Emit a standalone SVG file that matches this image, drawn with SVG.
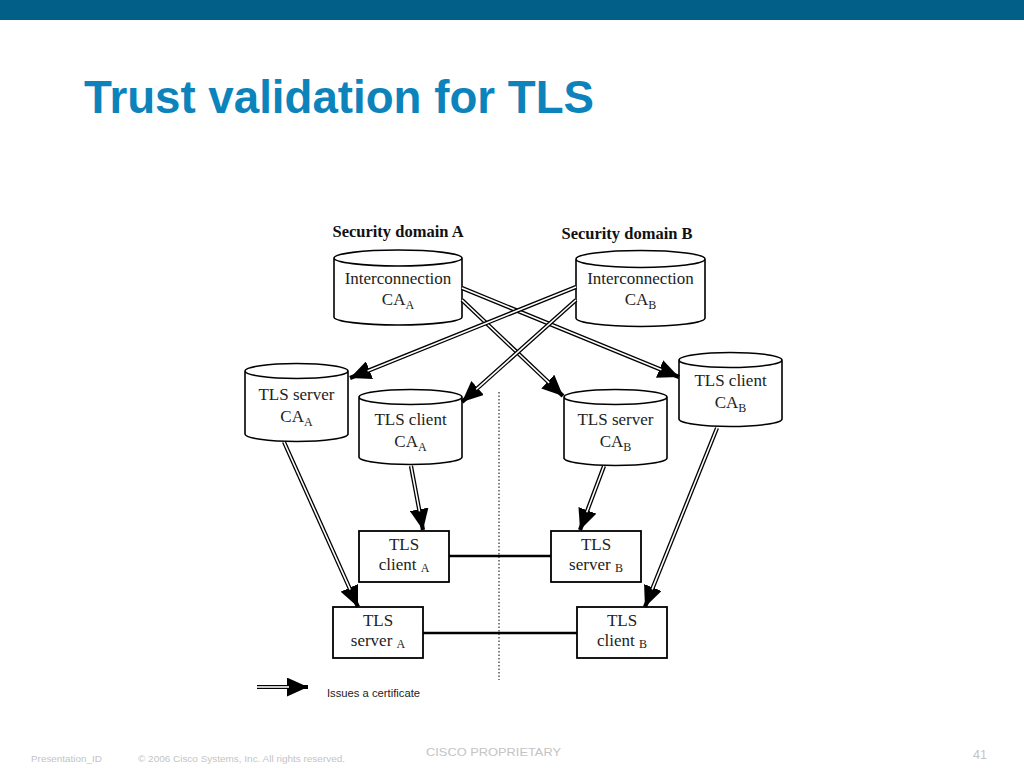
<svg xmlns="http://www.w3.org/2000/svg" width="1024" height="768" viewBox="0 0 1024 768">
<defs>
<marker id="ah" markerUnits="userSpaceOnUse" markerWidth="21" markerHeight="19" refX="20" refY="9" orient="auto" viewBox="0 0 20 18">
<path d="M0,0 L20,9 L0,18 Z" fill="#000"/>
</marker>
</defs>
<style>
.cyl{fill:#fff;stroke:#000;stroke-width:1.6}
.box{fill:#fff;stroke:#000;stroke-width:1.8}
.t{font-family:"Liberation Serif","Times New Roman",serif;font-size:17px;fill:#222;text-anchor:middle}
.sub{font-size:12px}
.hd{font-family:"Liberation Serif","Times New Roman",serif;font-size:16.5px;font-weight:bold;fill:#111;text-anchor:middle}
.outer{stroke:#000;stroke-width:4.2;fill:none;marker-end:url(#ah)}
.inner{stroke:#fff;stroke-width:1.6;fill:none}
.link{stroke:#000;stroke-width:2.6}
.foot{font-family:"Liberation Sans",Arial,sans-serif;fill:#c4c4c4}
</style>
<rect x="0" y="0" width="1024" height="768" fill="#fff"/>
<rect x="0" y="0" width="1024" height="20" fill="#025f87"/>
<text x="84" y="113" font-family="Liberation Sans,Arial,sans-serif" font-weight="bold" font-size="47" fill="#0c83ba" textLength="510" lengthAdjust="spacingAndGlyphs">Trust validation for TLS</text>

<text class="hd" x="398" y="237">Security domain A</text>
<text class="hd" x="627" y="239">Security domain B</text>

<line x1="499" y1="392" x2="499" y2="680" stroke="#555" stroke-width="1.5" stroke-dasharray="1.5 2"/>

<g id="ica">
<path class="cyl" d="M334,258 A64,8 0 0 1 462,258 V317 A64,8 0 0 1 334,317 Z M334,258 A64,8 0 0 0 462,258"/>
<text class="t" x="398" y="284">Interconnection</text>
<text class="t" x="398" y="305">CA<tspan class="sub" dy="4">A</tspan></text>
</g>
<g id="icb">
<path class="cyl" d="M576,259 A64.5,8.5 0 0 1 705,259 V318 A64.5,8.5 0 0 1 576,318 Z M576,259 A64.5,8.5 0 0 0 705,259"/>
<text class="t" x="640.5" y="284">Interconnection</text>
<text class="t" x="640.5" y="305">CA<tspan class="sub" dy="4">B</tspan></text>
</g>
<g id="tlsserverca_a">
<path class="cyl" d="M245,371 A51.5,7.5 0 0 1 348,371 V434 A51.5,7.5 0 0 1 245,434 Z M245,371 A51.5,7.5 0 0 0 348,371"/>
<text class="t" x="296.5" y="400">TLS server</text>
<text class="t" x="296.5" y="422">CA<tspan class="sub" dy="4">A</tspan></text>
</g>
<g id="tlsclientca_a">
<path class="cyl" d="M359,397 A51.5,7.5 0 0 1 462,397 V457 A51.5,7.5 0 0 1 359,457 Z M359,397 A51.5,7.5 0 0 0 462,397"/>
<text class="t" x="410.5" y="425">TLS client</text>
<text class="t" x="410.5" y="447">CA<tspan class="sub" dy="4">A</tspan></text>
</g>
<g id="tlsclientca_b">
<path class="cyl" d="M679,360 A51.5,7.5 0 0 1 782,360 V419 A51.5,7.5 0 0 1 679,419 Z M679,360 A51.5,7.5 0 0 0 782,360"/>
<text class="t" x="730.5" y="386">TLS client</text>
<text class="t" x="730.5" y="408">CA<tspan class="sub" dy="4">B</tspan></text>
</g>
<g id="tlsserverca_b">
<path class="cyl" d="M564,397 A51.5,7.5 0 0 1 667,397 V458 A51.5,7.5 0 0 1 564,458 Z M564,397 A51.5,7.5 0 0 0 667,397"/>
<text class="t" x="615.5" y="425">TLS server</text>
<text class="t" x="615.5" y="447">CA<tspan class="sub" dy="4">B</tspan></text>
</g>

<g id="client_a">
<rect class="box" x="359" y="531" width="90" height="51"/>
<text class="t" x="404" y="550">TLS</text>
<text class="t" x="404" y="570">client <tspan class="sub" dy="2">A</tspan></text>
</g>
<g id="server_b">
<rect class="box" x="551" y="531" width="90" height="51"/>
<text class="t" x="596" y="550">TLS</text>
<text class="t" x="596" y="570">server <tspan class="sub" dy="2">B</tspan></text>
</g>
<g id="server_a">
<rect class="box" x="333" y="607" width="90" height="51"/>
<text class="t" x="378" y="626">TLS</text>
<text class="t" x="378" y="646">server <tspan class="sub" dy="2">A</tspan></text>
</g>
<g id="client_b">
<rect class="box" x="577" y="607" width="90" height="51"/>
<text class="t" x="622" y="626">TLS</text>
<text class="t" x="622" y="646">client <tspan class="sub" dy="2">B</tspan></text>
</g>

<g id="connectors">
<line class="link" x1="449" y1="556" x2="551" y2="556"/>
<line class="link" x1="423" y1="633" x2="577" y2="633"/>

<line class="outer" x1="462" y1="288" x2="679" y2="377"/>
<line class="inner" x1="462" y1="288" x2="661.4" y2="369.8"/>
<line class="outer" x1="462" y1="300" x2="563" y2="396"/>
<line class="inner" x1="462" y1="300" x2="549.2" y2="382.9"/>
<line class="outer" x1="576" y1="287" x2="350" y2="378"/>
<line class="inner" x1="576" y1="287" x2="367.6" y2="370.9"/>
<line class="outer" x1="576" y1="300" x2="462" y2="402"/>
<line class="inner" x1="576" y1="300" x2="476.2" y2="389.3"/>
<line class="outer" x1="284" y1="442" x2="358" y2="607"/>
<line class="inner" x1="284" y1="442" x2="350.2" y2="589.7"/>
<line class="outer" x1="411" y1="466" x2="423" y2="530"/>
<line class="inner" x1="411" y1="466" x2="419.5" y2="511.3"/>
<line class="outer" x1="604" y1="466" x2="580" y2="530"/>
<line class="inner" x1="604" y1="466" x2="586.7" y2="512.2"/>
<line class="outer" x1="717" y1="428" x2="645" y2="607"/>
<line class="inner" x1="717" y1="428" x2="652.1" y2="589.4"/>
</g>

<g id="legend">
<line class="outer" x1="257" y1="687" x2="308" y2="687"/>
<line class="inner" x1="257" y1="687" x2="289" y2="687"/>
<text x="327" y="697" font-family="Liberation Sans,Arial,sans-serif" font-size="10.5" fill="#222" textLength="93" lengthAdjust="spacingAndGlyphs">Issues a certificate</text>
</g>

<text class="foot" x="31" y="762" font-size="9" textLength="71" lengthAdjust="spacingAndGlyphs">Presentation_ID</text>
<text class="foot" x="138" y="762" font-size="9" textLength="207" lengthAdjust="spacingAndGlyphs">© 2006 Cisco Systems, Inc. All rights reserved.</text>
<text class="foot" x="426" y="756" font-size="11.5" fill="#b0b0b0" textLength="135" lengthAdjust="spacingAndGlyphs">CISCO PROPRIETARY</text>
<text class="foot" x="973" y="759" font-size="13" textLength="14" lengthAdjust="spacingAndGlyphs">41</text>
</svg>
